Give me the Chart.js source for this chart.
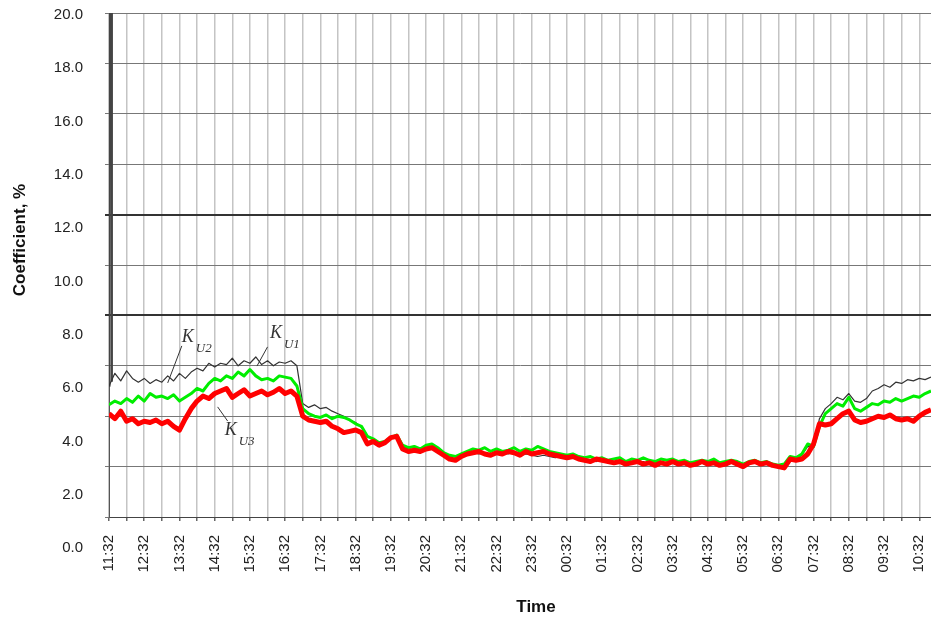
<!DOCTYPE html>
<html>
<head>
<meta charset="utf-8">
<title>Voltage distortion coefficients</title>
<script src="https://cdn.jsdelivr.net/npm/chart.js@4.4.1/dist/chart.umd.min.js"></script>
<style>
  html, body { margin: 0; padding: 0; background: #fff; }
  #wrap { width: 931px; height: 621px; }
</style>
</head>
<body>
<div id="wrap"><canvas id="chart" width="931" height="621"></canvas></div>
<script>
// hour labels along the time axis (one every 60 min, starting at 11:32)
const timeLabels = ['11:32', '12:32', '13:32', '14:32', '15:32', '16:32', '17:32', '18:32',
  '19:32', '20:32', '21:32', '22:32', '23:32', '00:32', '01:32', '02:32', '03:32', '04:32',
  '05:32', '06:32', '07:32', '08:32', '09:32', '10:32'];
const yTicks = [0, 2, 4, 6, 8, 10, 12, 14, 16, 18, 20];
const limitLines = [8, 12];   // normal / max permissible levels, drawn heavier
const stepMinutes = 10;       // one reading every 10 minutes

// K_U1 (black)
const kU1 = [
  5.2, 5.7, 5.4, 5.8, 5.5, 5.35, 5.5, 5.3, 5.45, 5.35,
  5.6, 5.4, 5.7, 5.5, 5.75, 5.9, 5.8, 6.1, 5.95, 6.1,
  6.05, 6.3, 6.0, 6.2, 6.1, 6.35, 6.05, 6.2, 6.0, 6.15,
  6.1, 6.2, 6.0, 4.5, 4.35, 4.45, 4.3, 4.35, 4.2, 4.1,
  4.0, 3.85, 3.75, 3.55, 3.2, 3.1, 2.9, 2.95, 3.1, 3.2,
  2.8, 2.7, 2.65, 2.6, 2.75, 2.8, 2.55, 2.5, 2.35, 2.3,
  2.4, 2.5, 2.55, 2.5, 2.55, 2.45, 2.5, 2.55, 2.5, 2.6,
  2.45, 2.5, 2.45, 2.4, 2.45, 2.4, 2.35, 2.4, 2.3, 2.35,
  2.3, 2.2, 2.25, 2.2, 2.3, 2.2, 2.15, 2.25, 2.1, 2.2,
  2.15, 2.2, 2.1, 2.15, 2.2, 2.1, 2.3, 2.15, 2.2, 2.1,
  2.15, 2.25, 2.1, 2.2, 2.1, 2.15, 2.2, 2.15, 2.05, 2.15,
  2.2, 2.1, 2.15, 2.05, 2.0, 2.05, 2.35, 2.3, 2.45, 2.8,
  2.75, 3.9, 4.3, 4.5, 4.75, 4.65, 4.9, 4.6, 4.55, 4.7,
  5.0, 5.1, 5.25, 5.15, 5.35, 5.3, 5.45, 5.4, 5.5, 5.45, 5.55
];
// K_U2 (green)
const kU2 = [
  4.45, 4.6, 4.5, 4.7, 4.55, 4.8, 4.6, 4.9, 4.75, 4.8,
  4.7, 4.85, 4.6, 4.75, 4.9, 5.1, 5.0, 5.3, 5.5, 5.4,
  5.6, 5.5, 5.75, 5.6, 5.85, 5.6, 5.45, 5.5, 5.4, 5.6,
  5.55, 5.5, 5.2, 4.3, 4.1, 4.0, 3.95, 4.05, 3.9, 4.0,
  3.95, 3.85, 3.7, 3.6, 3.2, 3.1, 2.95, 3.0, 3.15, 3.25,
  2.85, 2.75, 2.8, 2.7, 2.85, 2.9, 2.75, 2.55, 2.45, 2.4,
  2.5, 2.6, 2.7, 2.65, 2.75, 2.6, 2.7, 2.6, 2.65, 2.75,
  2.6, 2.7, 2.65, 2.8, 2.7, 2.6, 2.55, 2.5, 2.45, 2.5,
  2.4, 2.35, 2.4, 2.3, 2.35, 2.25, 2.3, 2.35, 2.2, 2.3,
  2.25, 2.35, 2.25, 2.2, 2.3, 2.25, 2.3, 2.2, 2.25, 2.15,
  2.2, 2.25, 2.2, 2.3, 2.15, 2.2, 2.25, 2.2, 2.1, 2.2,
  2.25, 2.15, 2.2, 2.1, 2.05, 2.1, 2.4, 2.35, 2.5, 2.9,
  2.8, 3.6, 4.1, 4.3, 4.5, 4.4, 4.75, 4.3, 4.2, 4.35,
  4.5, 4.45, 4.6, 4.55, 4.7, 4.6, 4.7, 4.8, 4.75, 4.9, 5.0
];
// K_U3 (red)
const kU3 = [
  4.1, 3.9, 4.2, 3.8, 3.9, 3.7, 3.8, 3.75, 3.85, 3.7,
  3.8, 3.6, 3.45, 3.9, 4.3, 4.6, 4.8, 4.7, 4.9, 5.0,
  5.1, 4.75, 4.9, 5.05, 4.8, 4.9, 5.0, 4.85, 4.95, 5.1,
  4.9, 5.0, 4.8, 4.0, 3.85, 3.8, 3.75, 3.8, 3.6, 3.5,
  3.35, 3.4, 3.45, 3.35, 2.9, 3.0, 2.85, 2.95, 3.15, 3.2,
  2.7, 2.6, 2.65, 2.6, 2.7, 2.75, 2.6, 2.45, 2.3, 2.25,
  2.4, 2.5, 2.55, 2.6, 2.5, 2.45, 2.55, 2.5, 2.6, 2.55,
  2.45, 2.6, 2.5, 2.55, 2.6, 2.5, 2.45, 2.4, 2.35, 2.4,
  2.3, 2.25, 2.2, 2.3, 2.25, 2.2, 2.15, 2.2, 2.1, 2.15,
  2.2, 2.1, 2.15, 2.05, 2.15, 2.1, 2.2, 2.1, 2.15, 2.05,
  2.1, 2.2, 2.1, 2.15, 2.05, 2.1, 2.2, 2.1, 2.0, 2.15,
  2.2, 2.1, 2.15, 2.05, 2.0, 1.95, 2.3, 2.25, 2.3, 2.5,
  2.9, 3.7, 3.65, 3.7, 3.9, 4.1, 4.2, 3.85, 3.75, 3.8,
  3.9, 4.0, 3.95, 4.05, 3.9, 3.85, 3.9, 3.8, 4.0, 4.15, 4.25
];
// switch-on transient of K_U1 in the first minutes
const spikeMinutes = [0, 1, 4, 5];
const spikeValues = [5.2, 21, 21, 5.4];

const minutes = kU1.map((_, i) => i * stepMinutes);
const toPoints = (xs, ys) => ys.map((v, i) => ({ x: xs[i], y: v }));

// curve labels, placed in data coordinates (minutes, %)
const notes = [
  { sub: 'U2', at: [124, 6.94], lead: [[124, 6.79], [100, 5.32]] },
  { sub: 'U1', at: [274, 7.10], lead: [[270, 6.75], [252, 5.99]] },
  { sub: 'U3', at: [197, 3.25], lead: [[185, 4.37], [202, 3.81]] }
];

Chart.defaults.font.family = '"Liberation Sans", Arial, sans-serif';

// the value labels of the source sit on a slightly taller scale than its grid
const labelStretch = 533 / 504;

const textPlugin = {
  id: 'extraText',
  afterDraw(chart) {
    const { ctx, chartArea, scales } = chart;
    const x = scales.x, y = scales.y;
    ctx.save();
    ctx.fillStyle = '#222';
    ctx.font = '15px "Liberation Sans", Arial, sans-serif';
    ctx.textAlign = 'right';
    ctx.textBaseline = 'middle';
    yTicks.forEach(v => {
      const py = chartArea.top + (y.getPixelForValue(v) - chartArea.top) * labelStretch + 2;
      ctx.fillText(v.toFixed(1), 83, py);
    });

    // curve labels
    ctx.strokeStyle = '#333';
    ctx.lineWidth = 1;
    ctx.fillStyle = '#333';
    ctx.textAlign = 'left';
    ctx.textBaseline = 'alphabetic';
    notes.forEach(n => {
      const kx = x.getPixelForValue(n.at[0]);
      const ky = y.getPixelForValue(n.at[1]);
      ctx.font = 'italic 18px "Liberation Serif", "Times New Roman", serif';
      ctx.fillText('K', kx, ky);
      ctx.font = 'italic 13px "Liberation Serif", "Times New Roman", serif';
      ctx.fillText(n.sub, kx + 14, ky + 10);
      ctx.beginPath();
      ctx.moveTo(x.getPixelForValue(n.lead[0][0]), y.getPixelForValue(n.lead[0][1]));
      ctx.lineTo(x.getPixelForValue(n.lead[1][0]), y.getPixelForValue(n.lead[1][1]));
      ctx.stroke();
    });

    // axis titles
    ctx.fillStyle = '#111';
    ctx.font = 'bold 17px "Liberation Sans", Arial, sans-serif';
    ctx.textAlign = 'center';
    ctx.textBaseline = 'middle';
    ctx.fillText('Time', 536, 607);
    ctx.translate(20, 240);
    ctx.rotate(-Math.PI / 2);
    ctx.fillText('Coefficient, %', 0, 0);
    ctx.restore();
  }
};

new Chart(document.getElementById('chart'), {
  type: 'line',
  data: {
    datasets: [
      { label: 'K U3', data: toPoints(minutes, kU3), borderColor: '#ff0000', borderWidth: 5 },
      { label: 'K U2', data: toPoints(minutes, kU2), borderColor: '#00ee00', borderWidth: 3 },
      { label: 'K U1', data: toPoints(minutes, kU1), borderColor: '#333333', borderWidth: 1.2 },
      { label: 'K U1 start', data: toPoints(spikeMinutes, spikeValues), borderColor: '#444444', borderWidth: 2 }
    ]
  },
  options: {
    responsive: false,
    animation: false,
    layout: { padding: { top: 13, right: 0, bottom: 0, left: 0 } },
    elements: {
      point: { radius: 0 },
      line: { tension: 0, borderJoinStyle: 'round' }
    },
    plugins: {
      legend: { display: false },
      tooltip: { enabled: false }
    },
    scales: {
      x: {
        type: 'linear',
        min: 0,
        max: 1400,
        afterFit(scale) {
          scale.height = 104;
          scale.paddingRight = 0;   // plot runs to the right edge of the picture
        },
        border: { color: '#444', width: 1 },
        grid: { color: '#c4c4c4', lineWidth: 1.5, tickLength: 4, tickColor: '#666' },
        ticks: {
          stepSize: 30,
          includeBounds: false,
          autoSkip: false,
          minRotation: 90,
          maxRotation: 90,
          padding: 14,
          color: '#222',
          font: { size: 15 },
          callback: v => (v % 60 === 0 ? timeLabels[v / 60] : '')
        }
      },
      y: {
        min: 0,
        max: 20,
        afterFit(scale) { scale.width = 109; },
        border: { color: '#555', width: 1 },
        grid: {
          color: c => (limitLines.includes(c.tick.value) ? '#333' : '#777'),
          lineWidth: c => (limitLines.includes(c.tick.value) ? 2 : 1),
          tickLength: 4
        },
        ticks: { display: false, stepSize: 2 }
      }
    }
  },
  plugins: [textPlugin]
});
</script>
</body>
</html>
